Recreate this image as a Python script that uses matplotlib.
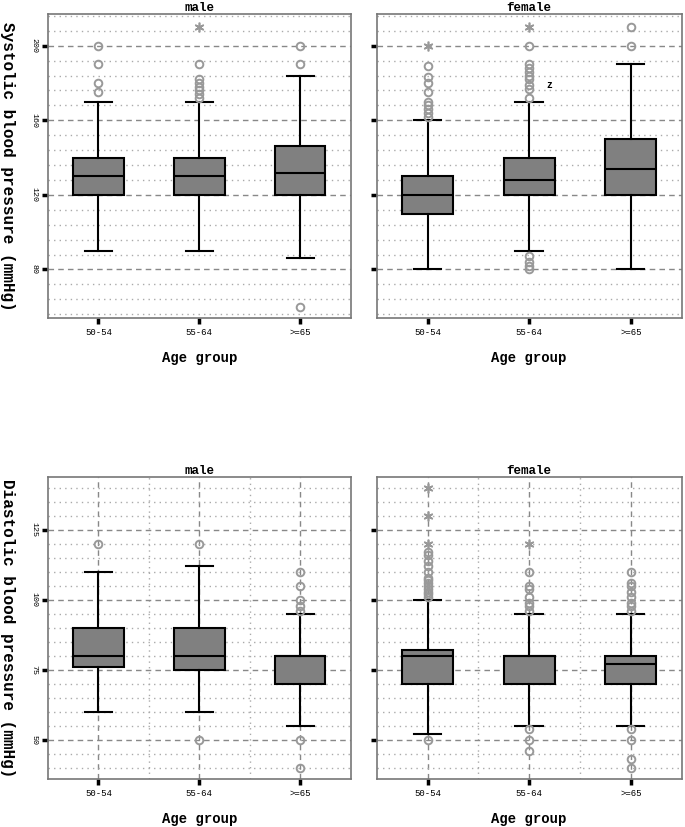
import matplotlib
matplotlib.use('Agg')
import matplotlib.pyplot as plt
import numpy as np

groups = ['50-54', '55-64', '>=65']

# systolic, male
sys_male_q1 = [120, 120, 120]
sys_male_med = [130, 130, 132]
sys_male_q3 = [140, 140, 146]
sys_male_lo = [90, 90, 86]
sys_male_hi = [170, 170, 184]
sys_male_out = [[200, 190, 180, 175], [190, 182, 180, 178, 176, 174, 172], [200, 190, 60]]
sys_male_ext = [[], [210], []]

# systolic, female
sys_female_q1 = [110, 120, 120]
sys_female_med = [120, 128, 134]
sys_female_q3 = [130, 140, 150]
sys_female_lo = [80, 90, 80]
sys_female_hi = [160, 170, 190]
sys_female_out = [[189, 183, 180, 175, 170, 168, 166, 164, 162],
                  [200, 190, 188, 186, 184, 182, 179, 177, 172, 87, 84, 82, 80],
                  [210, 200]]
sys_female_ext = [[200], [210], []]

# diastolic, male
dia_male_q1 = [76, 75, 70]
dia_male_med = [80, 80, 80]
dia_male_q3 = [90, 90, 80]
dia_male_lo = [60, 60, 55]
dia_male_hi = [110, 112, 95]
dia_male_out = [[120], [120, 50], [110, 105, 100, 98, 96, 50, 40]]
dia_male_ext = [[], [], []]

# diastolic, female
dia_female_q1 = [70, 70, 70]
dia_female_med = [80, 80, 77]
dia_female_q3 = [82, 80, 80]
dia_female_lo = [52, 55, 55]
dia_female_hi = [100, 95, 95]
dia_female_out = [[117, 116, 114, 112, 110, 108, 107, 106, 105, 104, 103, 102, 101, 50],
                  [110, 105, 104, 101, 99, 98, 96, 54, 50, 46],
                  [110, 106, 105, 103, 101, 99, 98, 96, 54, 50, 43, 40]]
dia_female_ext = [[140, 130, 120], [120], []]

MONO = 'Liberation Mono'


def draw_panel(ax, q1, med, q3, lo, hi, out, ext, ylim, major, minor, vgrid, title, ylabel):
    stats = []
    for i in range(len(groups)):
        stats.append({'q1': q1[i], 'med': med[i], 'q3': q3[i],
                      'whislo': lo[i], 'whishi': hi[i], 'fliers': out[i]})
    ax.bxp(stats, positions=[1, 2, 3], widths=0.5, capwidths=0.27, patch_artist=True,
           boxprops=dict(facecolor='#808080', edgecolor='black', linewidth=1.5),
           medianprops=dict(color='black', linewidth=1.5),
           whiskerprops=dict(color='black', linewidth=1.5),
           capprops=dict(color='black', linewidth=1.5),
           flierprops=dict(marker='o', markerfacecolor='none', markeredgecolor='#999999',
                           markersize=5.5, markeredgewidth=1.4),
           zorder=3)
    for i, vals in enumerate(ext):
        if vals:
            ax.plot([i + 1] * len(vals), vals, linestyle='none', marker=(6, 2, 0),
                    markersize=7, color='#999999', markeredgewidth=1.2, zorder=4)

    ax.set_xlim(0.5, 3.5)
    ax.set_ylim(*ylim)
    ax.set_yticks(major)
    ax.set_yticks(minor, minor=True)
    ax.set_xticks([1, 2, 3])
    ax.set_xticklabels(groups, fontsize=6.5, family=MONO)
    ax.yaxis.grid(True, which='major', color='#888888', linestyle=(0, (4, 3)), linewidth=1)
    ax.yaxis.grid(True, which='minor', color='#aaaaaa', linestyle=(0, (1, 3)), linewidth=1)
    if vgrid:
        ax.set_xticks([1.5, 2.5], minor=True)
        ax.xaxis.grid(True, which='major', color='#888888', linestyle=(0, (4, 3)), linewidth=1)
        ax.xaxis.grid(True, which='minor', color='#aaaaaa', linestyle=(0, (1, 3)), linewidth=1)
    ax.set_axisbelow(True)
    ax.tick_params(axis='both', which='major', direction='out', length=4, width=2.5, color='black')
    ax.tick_params(axis='both', which='minor', length=0)
    if ylabel:
        ax.set_yticklabels([str(v) for v in major], rotation=-90, fontsize=6,
                           family=MONO, va='center')
        ax.set_ylabel(ylabel, rotation=-90, fontsize=11.5, family=MONO,
                      fontweight='bold', va='center')
        ax.yaxis.set_label_coords(-0.135, 0.5)
    else:
        ax.set_yticklabels([])
    for s in ax.spines.values():
        s.set_color('#777777')
        s.set_linewidth(1.2)
    ax.set_title(title, fontsize=9, family=MONO, fontweight='bold', pad=1)
    ax.set_xlabel('Age group', fontsize=10, family=MONO, fontweight='bold', labelpad=10)


fig = plt.figure(figsize=(6.85, 8.27), dpi=100)
ax1 = fig.add_axes([0.070, 0.6155, 0.442, 0.3676])
ax2 = fig.add_axes([0.550, 0.6155, 0.445, 0.3676])
ax3 = fig.add_axes([0.070, 0.058, 0.442, 0.3655])
ax4 = fig.add_axes([0.550, 0.058, 0.445, 0.3655])

sys_major = [80, 120, 160, 200]
sys_minor = [56, 64, 72, 88, 96, 104, 112, 128, 136, 144, 152, 168, 176, 184, 192, 208, 216]
dia_major = [50, 75, 100, 125]
dia_minor = [40, 45, 55, 60, 65, 70, 80, 85, 90, 95, 105, 110, 115, 120, 130, 135, 140]

draw_panel(ax1, sys_male_q1, sys_male_med, sys_male_q3, sys_male_lo, sys_male_hi,
           sys_male_out, sys_male_ext, (54, 217), sys_major, sys_minor, False,
           'male', 'Systolic blood pressure (mmHg)')
draw_panel(ax2, sys_female_q1, sys_female_med, sys_female_q3, sys_female_lo, sys_female_hi,
           sys_female_out, sys_female_ext, (54, 217), sys_major, sys_minor, False,
           'female', None)
ax2.text(2.2, 179, 'z', fontsize=7, family=MONO, fontweight='bold', ha='center', va='center')
draw_panel(ax3, dia_male_q1, dia_male_med, dia_male_q3, dia_male_lo, dia_male_hi,
           dia_male_out, dia_male_ext, (36, 144), dia_major, dia_minor, True,
           'male', 'Diastolic blood pressure (mmHg)')
draw_panel(ax4, dia_female_q1, dia_female_med, dia_female_q3, dia_female_lo, dia_female_hi,
           dia_female_out, dia_female_ext, (36, 144), dia_major, dia_minor, True,
           'female', None)

fig.savefig('out.png', dpi=100)
